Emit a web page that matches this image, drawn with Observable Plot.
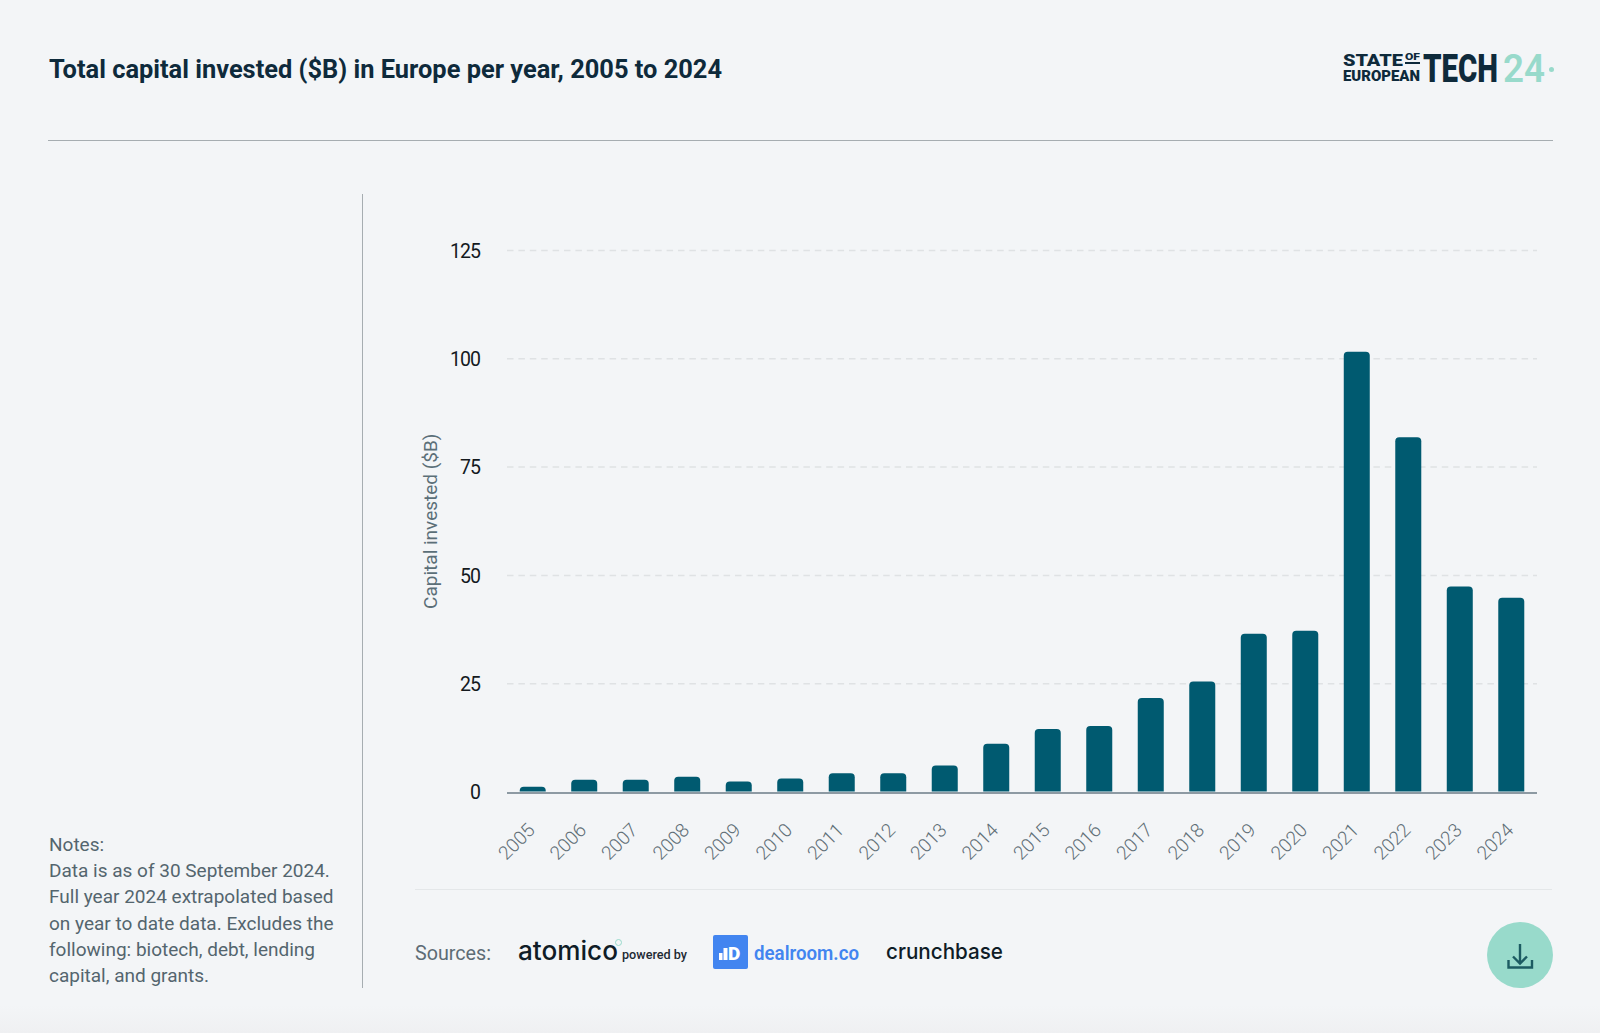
<!DOCTYPE html>
<html><head><meta charset="utf-8">
<script src="https://cdn.jsdelivr.net/npm/d3@7"></script>
<script src="https://cdn.jsdelivr.net/npm/@observablehq/plot@0.6"></script>
<style>
html,body{margin:0;padding:0;background:#f3f5f7;}
#page{position:relative;width:1600px;height:1033px;overflow:hidden;background:linear-gradient(#f3f5f7 0,#f3f5f7 1005px,#eff0f2 1033px);font-family:Roboto,sans-serif;}
#page>*{position:absolute;}
#title{left:49px;top:53px;margin:0;font-size:26px;line-height:32px;font-weight:700;color:#0e2a3b;white-space:nowrap;transform-origin:0 50%;}
.rule{background:#a6adb1;}
#notes{left:49px;top:832px;font-size:19px;line-height:26.2px;color:#54656e;white-space:nowrap;}
#chart{left:400px;top:200px;}
.t{white-space:nowrap;line-height:1;transform-origin:0 50%;}
</style></head>
<body>
<div id="page">
  <h1 id="title" data-w="673">Total capital invested ($B) in Europe per year, 2005 to 2024</h1>
  <div class="rule" style="left:48px;top:140px;width:1505px;height:1px"></div>
  <div class="rule" style="left:362px;top:194px;width:1.2px;height:794px"></div>
  <div style="left:415px;top:889px;width:1137px;height:1px;background:#e4e7e9"></div>
  <div id="notes"></div>
  <div id="chart"></div>

  <!-- brand mark -->
  <div class="t" data-w="60" style="left:1343px;top:51.7px;font-size:17px;font-weight:900;color:#0e2a3b">STATE</div>
  <div class="t" data-w="15" style="left:1405px;top:52.9px;font-size:8.5px;font-weight:900;color:#0e2a3b">OF</div>
  <div style="left:1405px;top:61.5px;width:15px;height:2px;background:#0e2a3b"></div>
  <div class="t" data-w="77" style="left:1343px;top:68.7px;font-size:15.5px;font-weight:900;color:#0e2a3b">EUROPEAN</div>
  <div class="t" data-w="75" style="left:1423px;top:48.9px;font-size:39.4px;font-weight:900;color:#0e2a3b">TECH</div>
  <div class="t" data-w="42" style="left:1503px;top:48.9px;font-size:39.4px;font-weight:600;color:#98dacb">24</div>
  <div style="left:1549px;top:67px;width:5px;height:5px;border-radius:50%;background:#98dacb"></div>

  <!-- sources row -->
  <div class="t" data-w="76" style="left:415px;top:944px;font-size:19.5px;color:#5d6c75">Sources:</div>
  <div class="t" data-w="100" style="left:518px;top:937.5px;font-size:26px;font-weight:500;color:#0f1c26;font-family:Inter,sans-serif">atomico</div>
  <div style="left:614.5px;top:939px;width:5px;height:5px;border:1px solid #98dacb;border-radius:50%;"></div>
  <div class="t" data-w="65" style="left:622px;top:948.5px;font-size:12.5px;font-weight:500;color:#1d2a33">powered by</div>
  <div style="left:713px;top:935px;width:35px;height:34px;border-radius:2px;background:#4285f0"></div>
  <svg style="left:713px;top:935px" width="35" height="34" viewBox="0 0 35 34"><g fill="#fff"><rect x="6" y="18" width="3.5" height="7"/><rect x="10.5" y="13" width="4" height="12"/></g><text x="15" y="25" font-family="Roboto" font-weight="900" font-size="19" fill="#fff">D</text></svg>
  <div class="t" data-w="105" style="left:754px;top:942.5px;font-size:20px;font-weight:600;color:#4285f0">dealroom.co</div>
  <div class="t" data-w="117" style="left:886px;top:939.5px;font-size:22px;font-weight:500;color:#0f1c26;font-family:Inter,sans-serif">crunchbase</div>

  <!-- download button -->
  <svg style="left:1487px;top:922px" width="66" height="66" viewBox="0 0 66 66">
    <circle cx="33" cy="33" r="33" fill="#98dacb"/>
    <g fill="none" stroke="#1c5b62" stroke-width="2.4">
      <path d="M33 22V41M26 34.5L33 41.5L40 34.5"/>
      <path d="M21.5 38V45.5H45V38"/>
    </g>
  </svg>
</div>
<script>
const years = ["2005","2006","2007","2008","2009","2010","2011","2012","2013","2014","2015","2016","2017","2018","2019","2020","2021","2022","2023","2024"];
const capital = [1.1,2.7,2.7,3.4,2.3,3.0,4.2,4.2,6.0,11.0,14.4,15.1,21.6,25.4,36.4,37.1,101.5,81.8,47.3,44.7];
const yTicks = [0,25,50,75,100,125];
const gridTicks = [25,50,75,100,125];
const noteLines = ["Notes:","Data is as of 30 September 2024.","Full year 2024 extrapolated based","on year to date data. Excludes the","following: biotech, debt, lending","capital, and grants."];
const rows = years.map((year,i)=>({year,value:capital[i]}));

document.getElementById("notes").innerHTML = noteLines.join("<br>");

const chart = Plot.plot({
  width:1160, height:680,
  marginLeft:107, marginRight:23, marginTop:50, marginBottom:88.5,
  style:{background:"transparent",fontFamily:"Roboto, sans-serif",overflow:"visible"},
  x:{domain:years,paddingInner:0.495,paddingOuter:0.247,round:false,label:null},
  y:{domain:[0,125],label:null},
  marks:[
    Plot.ruleY(gridTicks,{stroke:"#dfe2e4",strokeWidth:1.5,strokeDasharray:"6.5 4.9"}),
    Plot.barY(rows,{x:"year",y:"value",fill:"#005a70",rx1y1:4,rx2y1:4}),
    Plot.ruleY([0],{stroke:"#8d9aa3",strokeWidth:2,dy:1}),
    Plot.axisY({ticks:yTicks,tickSize:0,tickPadding:27.5,fontSize:19.5,dy:1,fill:"#14191e",label:null,fontWeight:400}),
    Plot.axisY({ticks:[],tickSize:0,label:"Capital invested ($B)",labelAnchor:"center",labelArrow:"none",labelOffset:84,fontSize:19,dy:-1.5,fill:"#5b6f78"}),
    Plot.axisX({tickSize:0,tickRotate:-45,tickPadding:35,dx:-1.5,fontSize:19,fill:"#5f6e76",fontWeight:300,label:null})
  ]
});
document.getElementById("chart").appendChild(chart);
chart.querySelectorAll('g[aria-label="y-axis tick label"] text').forEach(t=>t.style.letterSpacing="-1px");
// Narrow the fallback face so each text line keeps the reference's measured width.
document.querySelectorAll("[data-w]").forEach(el=>{
  el.style.transform=`scaleX(${el.dataset.w/el.getBoundingClientRect().width})`;
});
</script>
</body></html>
